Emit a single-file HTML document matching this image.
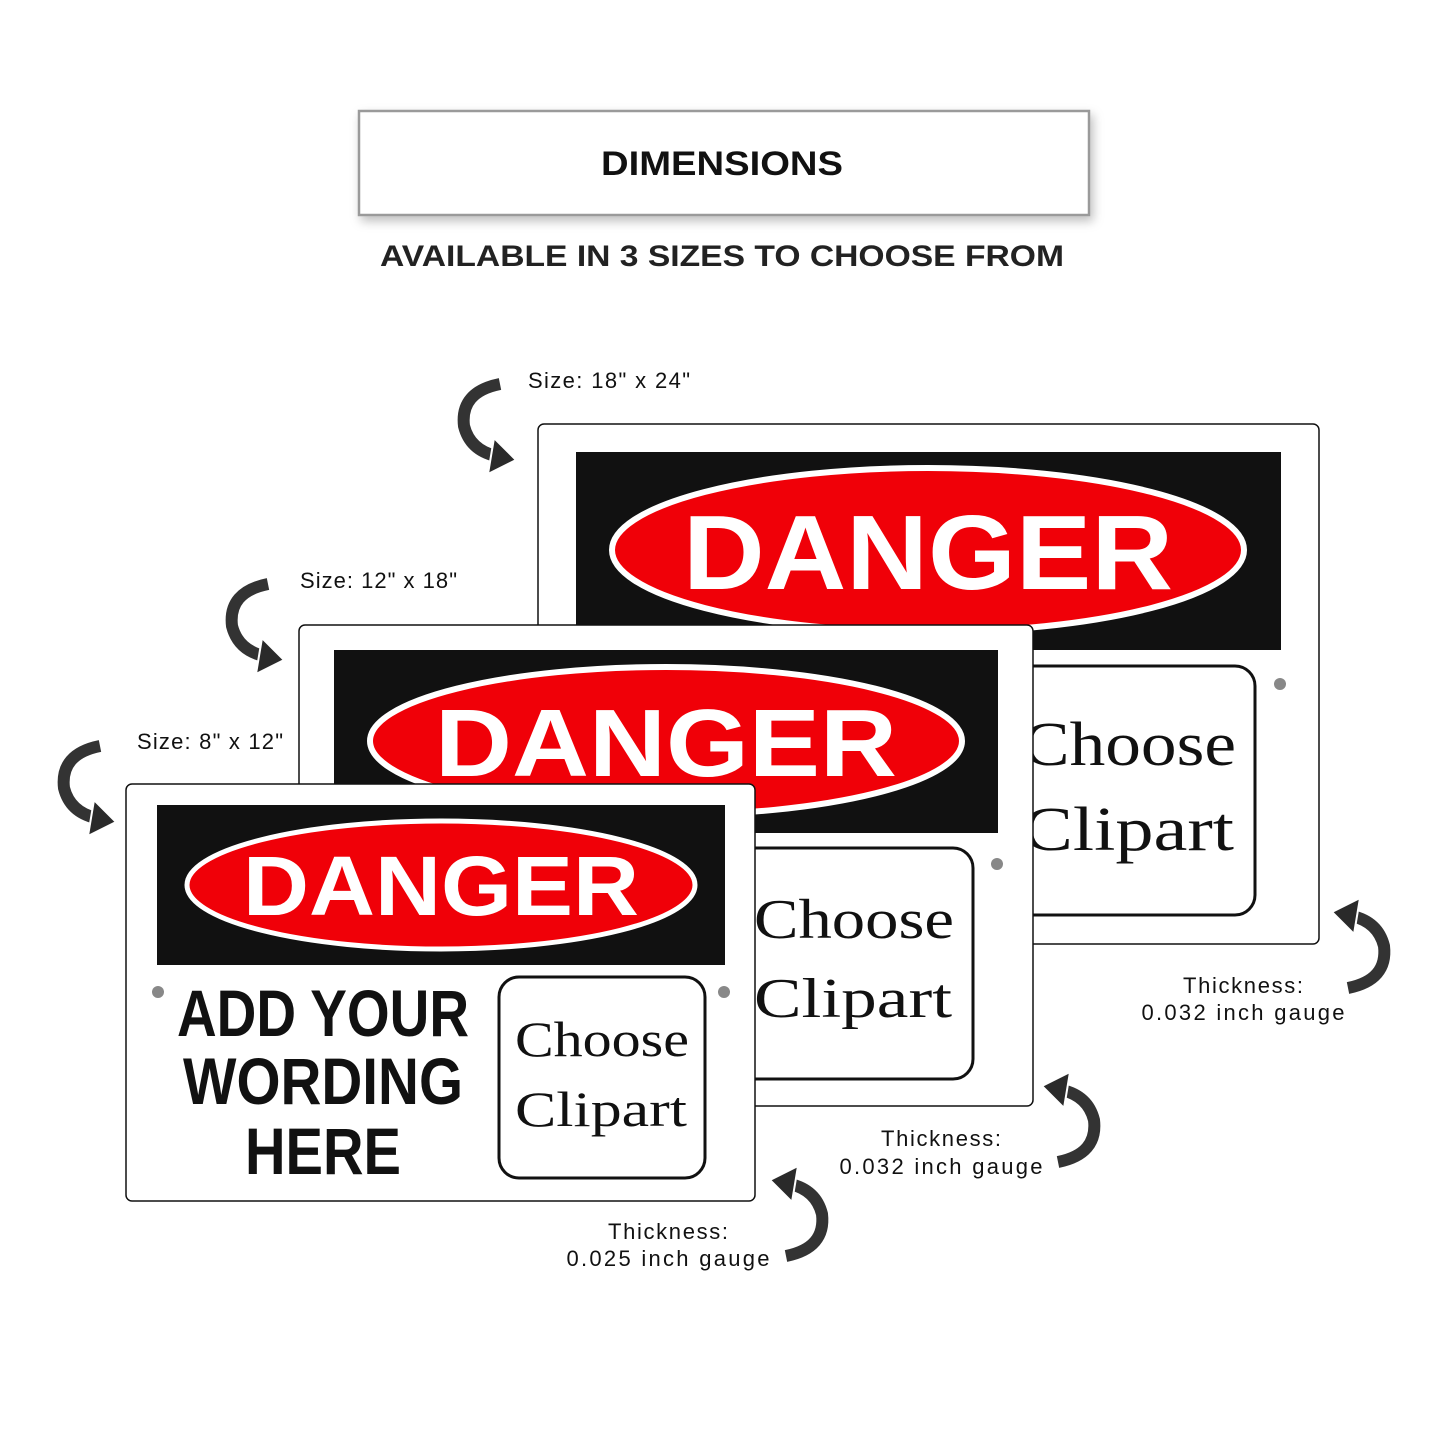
<!DOCTYPE html>
<html><head><meta charset="utf-8"><style>
html,body{margin:0;padding:0;background:#fff}
svg{display:block}
</style></head><body>
<svg width="1445" height="1445" viewBox="0 0 1445 1445" xmlns="http://www.w3.org/2000/svg">
<defs>
<filter id="sh" x="-10%" y="-30%" width="130%" height="170%"><feDropShadow dx="3" dy="5" stdDeviation="5" flood-color="#000" flood-opacity="0.25"/></filter>
<g id="arr">
<path d="M42,4 Q2,12 6,46 Q12,70 38,76" fill="none" stroke="#fff" stroke-width="17" stroke-linecap="round"/>
<path d="M42,4 Q2,12 6,46 Q12,70 38,76" fill="none" stroke="#333" stroke-width="12" stroke-linecap="butt"/>
<polygon points="58,80 36,58 30,94" fill="#2a2a2a" stroke="#fff" stroke-width="2"/>
</g>
</defs>

<rect x="359" y="111" width="730" height="104" fill="#fff" stroke="#9a9a9a" stroke-width="2.5" filter="url(#sh)"/>
<text x="722" y="175" text-anchor="middle" font-family="Liberation Sans, sans-serif" font-weight="bold" font-size="34" fill="#111" textLength="242" lengthAdjust="spacingAndGlyphs">DIMENSIONS</text>
<text x="722" y="266" text-anchor="middle" font-family="Liberation Sans, sans-serif" font-weight="bold" font-size="30" fill="#222" textLength="684" lengthAdjust="spacingAndGlyphs">AVAILABLE IN 3 SIZES TO CHOOSE FROM</text>

<g font-family="Liberation Sans, sans-serif" font-size="22" fill="#111" lengthAdjust="spacingAndGlyphs">
<text x="528" y="388" textLength="162">Size: 18" x 24"</text>
<text x="300" y="588" textLength="157">Size: 12" x 18"</text>
<text x="137" y="749" textLength="146">Size: 8" x 12"</text>
<text x="1243" y="993" text-anchor="middle" textLength="120">Thickness:</text>
<text x="1243" y="1020" text-anchor="middle" textLength="203">0.032 inch gauge</text>
<text x="941" y="1146" text-anchor="middle" textLength="120">Thickness:</text>
<text x="941" y="1174" text-anchor="middle" textLength="203">0.032 inch gauge</text>
<text x="668" y="1239" text-anchor="middle" textLength="120">Thickness:</text>
<text x="668" y="1266" text-anchor="middle" textLength="203">0.025 inch gauge</text>
</g>

<use href="#arr" transform="translate(458,380)"/>
<use href="#arr" transform="translate(226,580)"/>
<use href="#arr" transform="translate(58,742)"/>
<use href="#arr" transform="translate(1390,992) rotate(180)"/>
<use href="#arr" transform="translate(1100,1166) rotate(180)"/>
<use href="#arr" transform="translate(828,1260) rotate(180)"/>

<!-- large sign -->
<rect x="538" y="424" width="781" height="520" rx="6" fill="#fff" stroke="#111" stroke-width="1.5"/>
<rect x="576" y="452" width="705" height="198" fill="#111"/>
<ellipse cx="928" cy="550" rx="316" ry="82" fill="#f00008" stroke="#fff" stroke-width="6"/>
<text x="928" y="589" text-anchor="middle" font-family="Liberation Sans, sans-serif" font-weight="bold" font-size="106" fill="#fff" textLength="490" lengthAdjust="spacingAndGlyphs">DANGER</text>
<rect x="1005" y="666" width="250" height="249" rx="20" fill="#fff" stroke="#111" stroke-width="3"/>
<g font-family="Liberation Serif, serif" font-size="62" fill="#111">
<text x="1022" y="765" textLength="214" lengthAdjust="spacingAndGlyphs">Choose</text>
<text x="1022" y="850" textLength="212" lengthAdjust="spacingAndGlyphs">Clipart</text>
</g>
<circle cx="1280" cy="684" r="6" fill="#888"/>

<!-- medium sign -->
<rect x="299" y="625" width="734" height="481" rx="6" fill="#fff" stroke="#111" stroke-width="1.5"/>
<rect x="334" y="650" width="664" height="183" fill="#111"/>
<ellipse cx="666" cy="741" rx="296" ry="74" fill="#f00008" stroke="#fff" stroke-width="6"/>
<text x="666" y="776" text-anchor="middle" font-family="Liberation Sans, sans-serif" font-weight="bold" font-size="96" fill="#fff" textLength="462" lengthAdjust="spacingAndGlyphs">DANGER</text>
<rect x="735" y="848" width="238" height="231" rx="20" fill="#fff" stroke="#111" stroke-width="3"/>
<g font-family="Liberation Serif, serif" font-size="56" fill="#111">
<text x="754" y="938" textLength="200" lengthAdjust="spacingAndGlyphs">Choose</text>
<text x="754" y="1017" textLength="198" lengthAdjust="spacingAndGlyphs">Clipart</text>
</g>
<circle cx="997" cy="864" r="6" fill="#888"/>

<!-- small sign -->
<rect x="126" y="784" width="629" height="417" rx="6" fill="#fff" stroke="#111" stroke-width="1.5"/>
<rect x="157" y="805" width="568" height="160" fill="#111"/>
<ellipse cx="441" cy="885" rx="254" ry="64" fill="#f00008" stroke="#fff" stroke-width="5"/>
<text x="441" y="915" text-anchor="middle" font-family="Liberation Sans, sans-serif" font-weight="bold" font-size="84" fill="#fff" textLength="396" lengthAdjust="spacingAndGlyphs">DANGER</text>
<circle cx="158" cy="992" r="6" fill="#888"/>
<circle cx="724" cy="992" r="6" fill="#888"/>
<g font-family="Liberation Sans Narrow, Liberation Sans, sans-serif" font-weight="bold" font-size="66" fill="#111" text-anchor="middle">
<text x="323" y="1036" textLength="292" lengthAdjust="spacingAndGlyphs">ADD YOUR</text>
<text x="323" y="1104" textLength="280" lengthAdjust="spacingAndGlyphs">WORDING</text>
<text x="323" y="1174" textLength="156" lengthAdjust="spacingAndGlyphs">HERE</text>
</g>
<rect x="499" y="977" width="206" height="201" rx="20" fill="#fff" stroke="#111" stroke-width="3"/>
<g font-family="Liberation Serif, serif" font-size="50" fill="#111">
<text x="515" y="1056" textLength="174" lengthAdjust="spacingAndGlyphs">Choose</text>
<text x="515" y="1126" textLength="172" lengthAdjust="spacingAndGlyphs">Clipart</text>
</g>
</svg>
</body></html>
